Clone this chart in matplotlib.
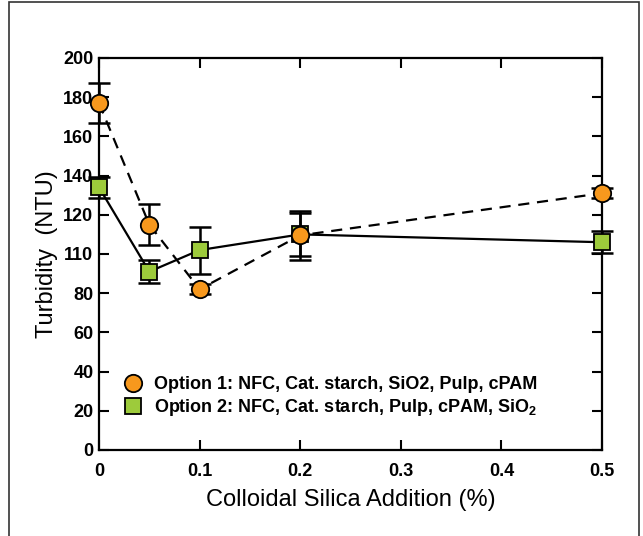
import matplotlib
matplotlib.use("Agg")
import matplotlib.pyplot as plt
from matplotlib.lines import Line2D
from matplotlib.patches import Rectangle

plt.rcParams['font.family'] = ['Liberation Sans', 'DejaVu Sans']
plt.rcParams['mathtext.fontset'] = 'custom'
plt.rcParams['mathtext.rm'] = 'Liberation Sans:bold'
plt.rcParams['mathtext.bf'] = 'Liberation Sans:bold'
plt.rcParams['mathtext.it'] = 'Liberation Sans:bold'

# Data
silica = [0, 0.05, 0.1, 0.2, 0.5]
opt1_turb = [177, 115, 82, 109.5, 131]
opt1_err = [10, 10.5, 2.5, 12.5, 2.5]
opt2_turb = [134, 91, 102, 110, 106]
opt2_err = [5.5, 6, 12, 11, 5.5]

xticks = [0, 0.1, 0.2, 0.3, 0.4, 0.5]
xticklabels = ["0", "0.1", "0.2", "0.3", "0.4", "0.5"]
yticks = [0, 20, 40, 60, 80, 100, 120, 140, 160, 180, 200]
yticklabels = ["0", "20", "40", "60", "80", "110", "120", "140", "160", "180", "200"]

label1 = "Option 1: NFC, Cat. starch, SiO2, Pulp, cPAM"
label2 = r"Option 2: NFC, Cat. starch, Pulp, cPAM, SiO$_2$"
xlabel = "Colloidal Silica Addition (%)"
ylabel = "Turbidity  (NTU)"

orange = "#F7981D"
green = "#9DCB3B"

fig = plt.figure(figsize=(6.43, 5.36), dpi=100)
ax = fig.add_axes([99/643, 1-450/536, (602-99)/643, (450-58)/536])

# connecting lines
ax.plot(silica, opt2_turb, color="black", lw=1.6, zorder=2, clip_on=False)
ax.plot(silica, opt1_turb, color="black", lw=1.6, ls=(0, (5, 3.5)), zorder=2, clip_on=False)

# error bars
for y, e in ((opt2_turb, opt2_err), (opt1_turb, opt1_err)):
    eb = ax.errorbar(silica, y, yerr=e, fmt="none", ecolor="black", elinewidth=1.8,
                     capsize=8, capthick=1.8, zorder=3)
    for art in eb.get_children():
        art.set_clip_on(False)

# markers
ax.plot(silica, opt2_turb, ls="none", marker="s", ms=12, mfc=green, mec="black",
        mew=1.3, zorder=4, clip_on=False)
ax.plot(silica, opt1_turb, ls="none", marker="o", ms=12.5, mfc=orange, mec="black",
        mew=1.3, zorder=5, clip_on=False)

ax.set_xlim(0, 0.5)
ax.set_ylim(0, 200)
ax.set_xticks(xticks)
ax.set_xticklabels(xticklabels, fontsize=13, fontweight="bold")
ax.set_yticks(yticks)
ax.set_yticklabels(yticklabels, fontsize=13, fontweight="bold")
ax.tick_params(direction="in", length=7, width=1.5, top=True, right=True)
ax.tick_params(axis="x", pad=9)
ax.tick_params(axis="y", pad=4)
for s in ax.spines.values():
    s.set_linewidth(1.6)

ax.set_xlabel(xlabel, fontsize=17)
ax.set_ylabel(ylabel, fontsize=17)
ax.xaxis.set_label_coords(0.5, -0.0995)
ax.yaxis.set_label_coords(-0.082, 0.5)

handles = [
    Line2D([], [], ls="none", marker="o", ms=12.5, mfc=orange, mec="black", mew=1.3),
    Line2D([], [], ls="none", marker="s", ms=12, mfc=green, mec="black", mew=1.3),
]
leg = ax.legend(handles, [label1, label2], loc="center left",
                bbox_to_anchor=(0.0457, 0.134), frameon=False,
                prop={"weight": "bold", "size": 13}, handletextpad=0.6,
                labelspacing=0.22, handlelength=1.2, borderaxespad=0, borderpad=0)

# outer border
fig.patches.append(Rectangle((9/643, -0.05), (639-9)/643, 1.05 - 2/536,
                             transform=fig.transFigure, fill=False,
                             edgecolor="#333333", lw=1.2))

fig.savefig("out.png", dpi=100)
